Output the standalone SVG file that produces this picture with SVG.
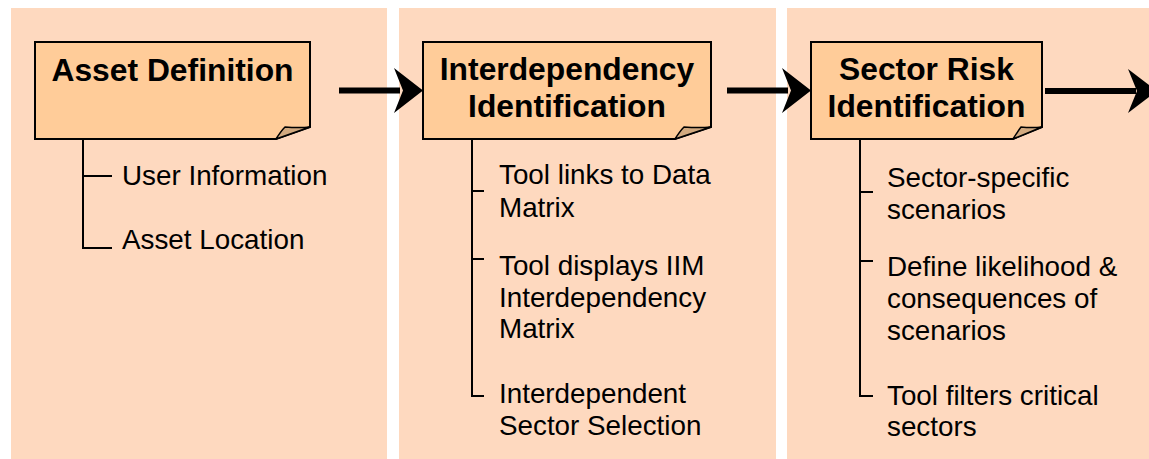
<svg xmlns="http://www.w3.org/2000/svg" width="1149" height="459" viewBox="0 0 1149 459">
  <style>
    .panel { fill: #FED9BF; }
    .box { fill: #FFCC99; stroke: #000; stroke-width: 2; stroke-linejoin: miter; }
    .fold { fill: #D2AA80; stroke: #000; stroke-width: 1.5; stroke-linejoin: round; }
    .title { font-family: "Liberation Sans", Arial, sans-serif; font-weight: bold; font-size: 31.8px; fill: #000; text-anchor: middle; }
    .item { font-family: "Liberation Sans", Arial, sans-serif; font-size: 27.8px; fill: #000; }
    .tree { fill: none; stroke: #000; stroke-width: 2; }
    .flow { fill: none; stroke: #000; stroke-width: 6; }
    .head { fill: #000; }
  </style>

  <rect width="1149" height="459" fill="#FFFFFF"/>

  <!-- stage panels -->
  <rect class="panel" x="11" y="8" width="376" height="451"/>
  <rect class="panel" x="399" y="8" width="377" height="451"/>
  <rect class="panel" x="787" y="8" width="362" height="451"/>

  <!-- stage 1 -->
  <g id="asset-definition">
    <path class="box" d="M35,42 H310 V127 L276,139 H35 Z"/>
    <path class="fold" d="M276,139 Q281,131 285,127 Q299,128 310,127 Z"/>
    <text class="title" x="172.5" y="81">Asset Definition</text>
    <path class="tree" d="M83,139 V248 H112 M83,176 H112"/>
    <text class="item" x="122" y="185">User Information</text>
    <text class="item" x="122" y="249">Asset Location</text>
  </g>

  <!-- stage 2 -->
  <g id="interdependency-identification">
    <path class="box" d="M423,42 H711 V127 L675,139 H423 Z"/>
    <path class="fold" d="M675,139 Q680,131 684,127 Q699,128 711,127 Z"/>
    <text class="title" x="567" y="80">Interdependency</text>
    <text class="title" x="567" y="117">Identification</text>
    <path class="tree" d="M472,139 V396 H484 M472,191 H484 M472,259 H484"/>
    <text class="item" x="499" y="184">Tool links to Data</text>
    <text class="item" x="499" y="217">Matrix</text>
    <text class="item" x="499" y="275">Tool displays IIM</text>
    <text class="item" x="499" y="307">Interdependency</text>
    <text class="item" x="499" y="338">Matrix</text>
    <text class="item" x="499" y="403">Interdependent</text>
    <text class="item" x="499" y="435">Sector Selection</text>
  </g>

  <!-- stage 3 -->
  <g id="sector-risk-identification">
    <path class="box" d="M811,42 H1042 V127 L1013,139 H811 Z"/>
    <path class="fold" d="M1013,139 Q1018,131 1021,127 Q1032,128 1042,127 Z"/>
    <text class="title" x="926.5" y="80">Sector Risk</text>
    <text class="title" x="926.5" y="117">Identification</text>
    <path class="tree" d="M860,139 V396 H873 M860,192 H873 M860,261 H873"/>
    <text class="item" x="887" y="187">Sector-specific</text>
    <text class="item" x="887" y="219">scenarios</text>
    <text class="item" x="887" y="276">Define likelihood &amp;</text>
    <text class="item" x="887" y="308">consequences of</text>
    <text class="item" x="887" y="340">scenarios</text>
    <text class="item" x="887" y="405">Tool filters critical</text>
    <text class="item" x="887" y="436">sectors</text>
  </g>

  <!-- flow arrows between stages -->
  <g id="connectors">
    <path class="flow" d="M339,90.5 H400"/>
    <path class="head" d="M394,68 L423,90.5 L394,113 L403,90.5 Z"/>
    <path class="flow" d="M727,90.5 H788"/>
    <path class="head" d="M782,68 L811,90.5 L782,113 L791,90.5 Z"/>
    <path class="flow" d="M1045,91 H1136"/>
    <path class="head" d="M1128,69 L1157,91 L1128,113 L1137,91 Z"/>
  </g>
</svg>
